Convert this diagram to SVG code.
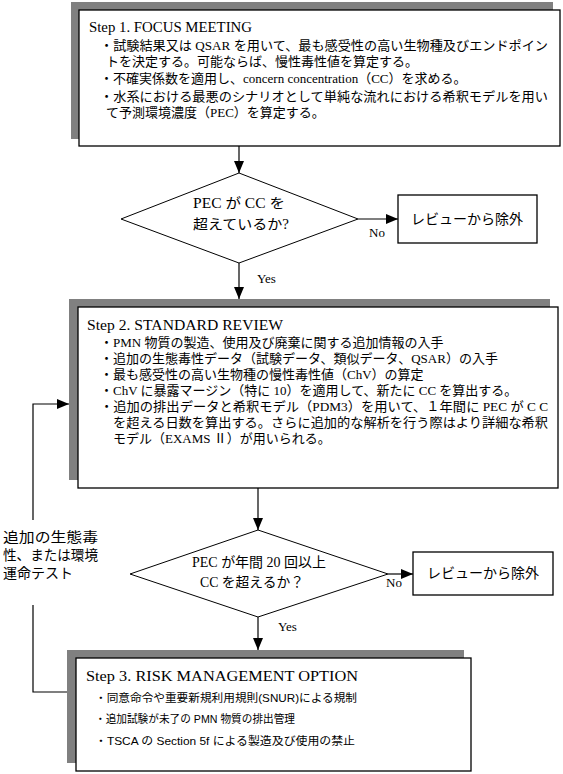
<svg xmlns="http://www.w3.org/2000/svg" width="563" height="774" viewBox="0 0 563 774">
<style>
.shadow{fill:#808080;stroke:none}
.box{fill:#fff;stroke:#000;stroke-width:1.3}
.dia{fill:#fff;stroke:#000;stroke-width:1}
.ln{fill:none;stroke:#000;stroke-width:1.2}
text{font-family:"Liberation Serif","Noto Sans CJK JP",serif;fill:#000}
.hd{font-size:14px}
.tx{font-size:13px}
.lb{font-size:14px}
.sm{font-size:11px;font-family:"Liberation Sans","Noto Sans CJK JP",sans-serif}
.mid{text-anchor:middle}
</style>
<defs>
<marker id="ah" viewBox="0 0 12 10" refX="12" refY="5" markerWidth="12" markerHeight="10" markerUnits="userSpaceOnUse" orient="auto">
<path d="M0,0 L12,5 L0,10 Z" fill="#000"/>
</marker>
</defs>
<rect width="563" height="774" fill="#fff"/>
<g id="step1">
<rect class="shadow" x="71" y="2" width="482" height="137"/>
<rect class="box" x="79" y="10" width="481" height="136"/>
<text class="hd" x="89" y="32" textLength="163" lengthAdjust="spacingAndGlyphs">Step 1. FOCUS MEETING</text>
<text class="tx" x="100" y="50" textLength="448" lengthAdjust="spacingAndGlyphs">・試験結果又は QSAR を用いて、最も感受性の高い生物種及びエンドポイン</text>
<text class="tx" x="106" y="66">トを決定する。可能ならば、慢性毒性値を算定する。</text>
<text class="tx" x="100" y="83">・不確実係数を適用し、concern concentration（CC）を求める。</text>
<text class="tx" x="100" y="101" textLength="448" lengthAdjust="spacingAndGlyphs">・水系における最悪のシナリオとして単純な流れにおける希釈モデルを用い</text>
<text class="tx" x="106" y="117">て予測環境濃度（PEC）を算定する。</text>
</g>
<g id="decision1">
<polygon class="dia" points="239,173 358,219 239,263 121,219"/>
<text class="lb" x="193" y="208" textLength="92" lengthAdjust="spacingAndGlyphs">PEC が  CC を</text>
<text class="lb" x="193" y="229" textLength="96" lengthAdjust="spacingAndGlyphs">超えているか?</text>
</g>
<g id="exclude1">
<rect class="box" x="398" y="195" width="139" height="48"/>
<text class="lb mid" x="467" y="224">レビューから除外</text>
</g>
<g id="step2">
<rect class="shadow" x="69" y="299" width="481" height="181"/>
<rect class="box" x="78" y="307" width="480" height="181"/>
<text class="hd" x="87" y="330" textLength="196" lengthAdjust="spacingAndGlyphs">Step 2. STANDARD REVIEW</text>
<text class="tx" x="100" y="347">・PMN 物質の製造、使用及び廃棄に関する追加情報の入手</text>
<text class="tx" x="100" y="363">・追加の生態毒性データ（試験データ、類似データ、QSAR）の入手</text>
<text class="tx" x="100" y="379">・最も感受性の高い生物種の慢性毒性値（ChV）の算定</text>
<text class="tx" x="100" y="395">・ChV に暴露マージン（特に 10）を適用して、新たに CC を算出する。</text>
<text class="tx" x="100" y="411" textLength="448" lengthAdjust="spacingAndGlyphs">・追加の排出データと希釈モデル（PDM3）を用いて、１年間に PEC が C C</text>
<text class="tx" x="113" y="427" textLength="435" lengthAdjust="spacingAndGlyphs">を超える日数を算出する。さらに追加的な解析を行う際はより詳細な希釈</text>
<text class="tx" x="113" y="443">モデル（EXAMS Ⅱ）が用いられる。</text>
</g>
<g id="decision2">
<polygon class="dia" points="258,530 388,574 258,617 130,574"/>
<text class="lb" x="192" y="567" textLength="134" lengthAdjust="spacingAndGlyphs">PEC が年間 20 回以上</text>
<text class="lb" x="200" y="587" textLength="104" lengthAdjust="spacingAndGlyphs">CC を超えるか？</text>
</g>
<g id="exclude2">
<rect class="box" x="413" y="552" width="140" height="43"/>
<text class="lb mid" x="483" y="578">レビューから除外</text>
</g>
<g id="step3">
<rect class="shadow" x="67" y="650" width="397" height="113"/>
<rect class="box" x="76" y="658" width="395" height="113"/>
<text x="86" y="681" style="font-size:15px" textLength="272" lengthAdjust="spacingAndGlyphs">Step 3. RISK MANAGEMENT OPTION</text>
<text class="sm" x="95" y="702" textLength="262" lengthAdjust="spacingAndGlyphs">・同意命令や重要新規利用規則(SNUR)による規制</text>
<text class="sm" x="95" y="723" textLength="200" lengthAdjust="spacingAndGlyphs">・追加試験が未了の PMN 物質の排出管理</text>
<text class="sm" x="95" y="745" textLength="260" lengthAdjust="spacingAndGlyphs">・TSCA の Section 5f による製造及び使用の禁止</text>
</g>
<g id="loop-label">
<text x="3" y="542" style="font-size:14px" textLength="95" lengthAdjust="spacingAndGlyphs">追加の生態毒</text>
<text x="3" y="560" style="font-size:14px" textLength="95" lengthAdjust="spacingAndGlyphs">性、または環境</text>
<text x="3" y="578" style="font-size:14px">運命テスト</text>
</g>
<g id="connectors">
<line class="ln" x1="239" y1="146" x2="239" y2="173" marker-end="url(#ah)"/>
<line class="ln" x1="358" y1="219" x2="398" y2="219" marker-end="url(#ah)"/>
<text class="tx" x="369" y="237">No</text>
<line class="ln" x1="239" y1="263" x2="239" y2="299" marker-end="url(#ah)"/>
<text class="tx" x="257" y="283">Yes</text>
<line class="ln" x1="258" y1="488" x2="258" y2="530" marker-end="url(#ah)"/>
<line class="ln" x1="388" y1="574" x2="413" y2="574" marker-end="url(#ah)"/>
<text class="tx" x="386" y="587">No</text>
<line class="ln" x1="258" y1="617" x2="258" y2="650" marker-end="url(#ah)"/>
<text class="tx" x="278" y="631">Yes</text>
<polyline class="ln" points="67,692 33,692 33,605"/>
<polyline class="ln" points="33,520 33,404 69,404" marker-end="url(#ah)"/>
</g>
</svg>
